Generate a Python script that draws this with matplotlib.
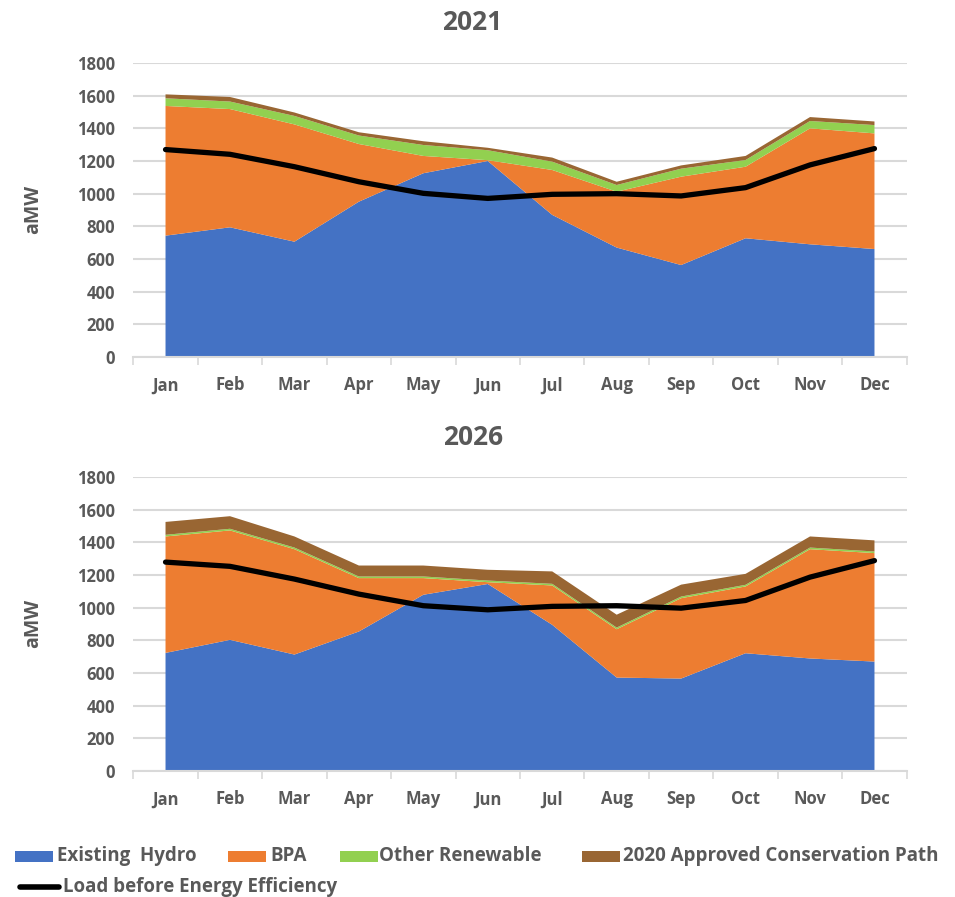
import matplotlib
matplotlib.use("Agg")
import matplotlib.pyplot as plt
from matplotlib.patches import Rectangle
from matplotlib.lines import Line2D
import numpy as np

plt.rcParams['font.family'] = ['Open Sans', 'DejaVu Sans']

months = ['Jan', 'Feb', 'Mar', 'Apr', 'May', 'Jun', 'Jul', 'Aug', 'Sep', 'Oct', 'Nov', 'Dec']
yticks = [0, 200, 400, 600, 800, 1000, 1200, 1400, 1600, 1800]

hydro_2021 = [743, 794, 706, 951, 1125, 1200, 870, 670, 563, 727, 690, 661]
bpa_2021 = [794, 724, 718, 353, 106, 5, 275, 342, 541, 438, 710, 708]
renew_2021 = [47, 46, 52, 52, 67, 61, 51, 41, 49, 41, 45, 51]
cons_2021 = [24, 28, 21, 20, 23, 15, 25, 20, 20, 25, 24, 22]
load_2021 = [1270, 1241, 1165, 1073, 1002, 971, 996, 1000, 986, 1037, 1176, 1276]

hydro_2026 = [723, 803, 713, 854, 1079, 1145, 895, 572, 566, 721, 689, 670]
bpa_2026 = [713, 670, 645, 327, 102, 11, 241, 296, 492, 409, 669, 664]
renew_2026 = [10, 10, 10, 10, 10, 10, 10, 10, 10, 10, 10, 10]
cons_2026 = [79, 77, 68, 67, 67, 66, 76, 79, 73, 67, 68, 68]
load_2026 = [1279, 1253, 1175, 1083, 1012, 987, 1008, 1012, 997, 1044, 1187, 1288]

series_names = ['Existing  Hydro', 'BPA', 'Other Renewable', '2020 Approved Conservation Path']
load_name = 'Load before Energy Efficiency'
colors = ['#4472C4', '#ED7D31', '#92D050', '#996633']
txt = '#595959'
grid_c = '#D9D9D9'

W, H = 955, 897
fig = plt.figure(figsize=(W / 100, H / 100), dpi=100)


def make_axes(top_px, bottom_px, left_px=133.3, right_px=906.7):
    return fig.add_axes([left_px / W, 1 - bottom_px / H, (right_px - left_px) / W, (bottom_px - top_px) / H])


def draw(ax, hydro, bpa, renew, cons, load):
    x = np.arange(len(months))
    ax.stackplot(x, hydro, bpa, renew, cons, colors=colors, linewidth=0, zorder=2)
    ax.plot(x, load, color='black', lw=3.8, solid_capstyle='round', zorder=3)
    ax.set_xlim(-0.5, 11.5)
    ax.set_ylim(0, 1800)
    ax.set_yticks(yticks)
    ax.set_yticklabels([str(v) for v in yticks], fontsize=12, fontweight='bold', color=txt)
    ax.tick_params(axis='y', length=0, pad=13)
    ax.yaxis.grid(True, color=grid_c, lw=1.5, zorder=0)
    ax.set_axisbelow(True)
    ax.set_xticks(np.arange(-0.5, 12, 1))
    ax.set_xticklabels([])
    ax.set_xticks(x, minor=True)
    ax.set_xticklabels(months, minor=True, fontsize=12, fontweight='bold', color=txt)
    ax.tick_params(axis='x', which='major', length=6, width=1.2, color=grid_c)
    ax.tick_params(axis='x', which='minor', length=0, pad=14)
    for s in ['top', 'right', 'left']:
        ax.spines[s].set_visible(False)
    ax.spines['bottom'].set_color(grid_c)
    ax.spines['bottom'].set_linewidth(1.5)
    ax.spines['bottom'].set_zorder(4)


ax1 = make_axes(63, 357)
draw(ax1, hydro_2021, bpa_2021, renew_2021, cons_2021, load_2021)
ax2 = make_axes(477, 771)
draw(ax2, hydro_2026, bpa_2026, renew_2026, cons_2026, load_2026)

fig.text(472 / W, 1 - 22 / H, '2021', ha='center', va='center', fontsize=19, fontweight='bold', color=txt)
fig.text(473 / W, 1 - 437 / H, '2026', ha='center', va='center', fontsize=19, fontweight='bold', color=txt)
fig.text(33 / W, 1 - 209 / H, 'aMW', ha='center', va='center', rotation=90, fontsize=14, fontweight='bold', color=txt)
fig.text(33 / W, 1 - 623 / H, 'aMW', ha='center', va='center', rotation=90, fontsize=14, fontweight='bold', color=txt)

# legend drawn in pixel coordinates on an overlay axes
lg = fig.add_axes([0, 0, 1, 1], facecolor='none')
lg.set_xlim(0, W)
lg.set_ylim(H, 0)
lg.axis('off')
patch_x = [15, 228, 340, 582]
text_x = [57, 270, 379, 623]
for px, tx, c, name in zip(patch_x, text_x, colors, series_names):
    lg.add_patch(Rectangle((px, 851), 38, 11, facecolor=c, edgecolor='none'))
    lg.text(tx, 856, name, ha='left', va='center', fontsize=13.5, fontweight='bold', color=txt)
lg.add_line(Line2D([20, 59], [887, 887], color='black', lw=4, solid_capstyle='round'))
lg.text(63, 887, load_name, ha='left', va='center', fontsize=13.5, fontweight='bold', color=txt)

fig.savefig('out.png', dpi=100)
